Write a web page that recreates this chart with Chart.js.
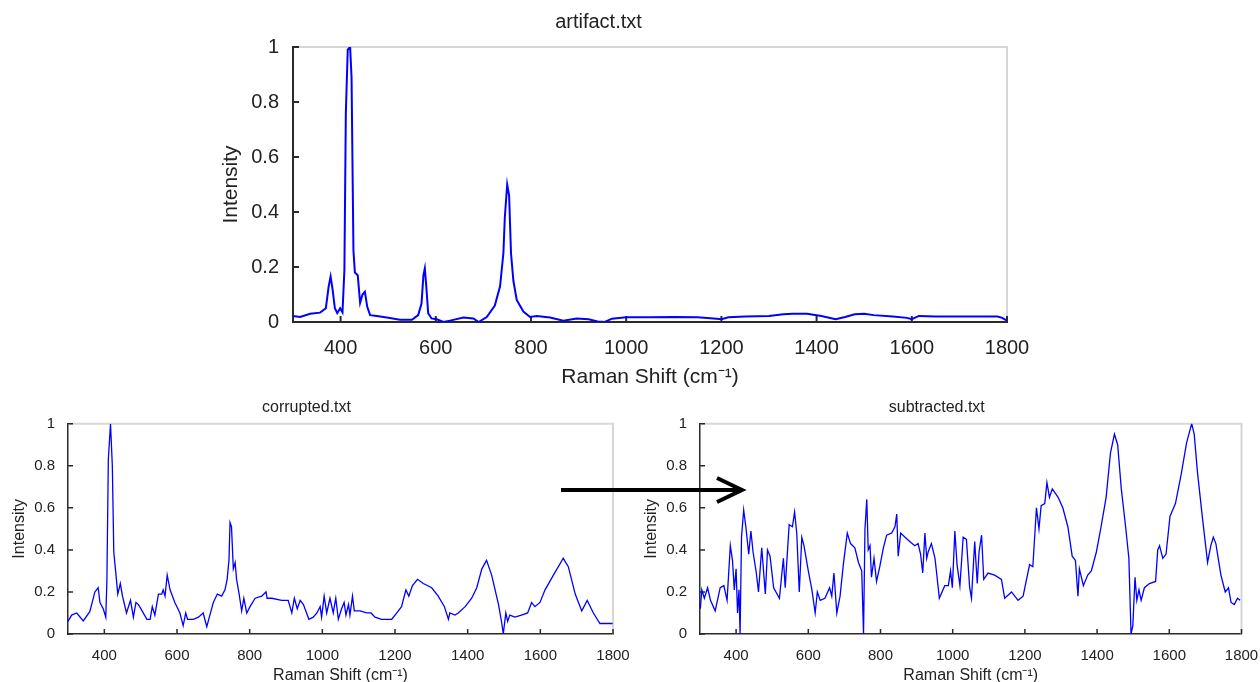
<!DOCTYPE html>
<html lang="en">
<head>
  <meta charset="UTF-8" />
  <title>Raman spectra - artifact subtraction</title>
  <script src="https://cdn.jsdelivr.net/npm/chart.js"></script>
  <style>
    html, body {
      margin: 0;
      padding: 0;
      width: 1260px;
      height: 682px;
      overflow: hidden;
      background: #fff;
    }
    canvas, svg { position: absolute; }
    #artifactChart { left: 190px; top: 0px; }
    #corruptedChart { left: 0px; top: 390px; }
    #subtractedChart { left: 632px; top: 390px; }
    #arrow { left: 0; top: 0; pointer-events: none; }
  </style>
</head>
<body>
  <canvas id="artifactChart" width="850" height="400"></canvas>
  <canvas id="corruptedChart" width="640" height="300"></canvas>
  <canvas id="subtractedChart" width="640" height="300"></canvas>

  <!-- the arrow between the two lower plots -->
  <svg id="arrow" width="1260" height="682">
    <line x1="561" y1="490" x2="740" y2="490" stroke="#000" stroke-width="4" />
    <polyline points="717,478 742,490 717,502" fill="none" stroke="#000" stroke-width="4" />
  </svg>

  <script>
    // tick values shared by all three plots
    const shiftTicks = [400, 600, 800, 1000, 1200, 1400, 1600, 1800];
    const intensityTicks = [0, 0.2, 0.4, 0.6, 0.8, 1];

    // artifact.txt
    const artifactShift = [300, 315, 336, 357, 369, 375, 379, 383, 388, 393, 399, 404, 408, 411, 415, 420, 423, 427, 430, 436, 441, 446, 451, 456, 462, 476, 497, 525, 550, 563, 570, 574, 577, 580, 584, 591, 602, 616, 630, 658, 679, 690, 707, 724, 735, 742, 745, 750, 754, 758, 763, 770, 784, 798, 812, 840, 868, 896, 921, 940, 955, 970, 1000, 1050, 1100, 1150, 1190, 1200, 1215, 1250, 1300, 1330, 1350, 1380, 1410, 1440, 1460, 1480, 1500, 1520, 1560, 1590, 1600, 1615, 1650, 1700, 1750, 1780, 1790, 1800];
    const artifactIntensity = [0.022, 0.018, 0.03, 0.034, 0.05, 0.13, 0.165, 0.12, 0.05, 0.032, 0.05, 0.035, 0.19, 0.76, 0.99, 1.0, 0.89, 0.26, 0.18, 0.17, 0.07, 0.1, 0.11, 0.055, 0.025, 0.022, 0.016, 0.008, 0.008, 0.025, 0.067, 0.17, 0.195, 0.13, 0.032, 0.013, 0.01, 0.0, 0.005, 0.016, 0.013, 0.0, 0.018, 0.06, 0.13, 0.25, 0.38, 0.5, 0.46, 0.25, 0.15, 0.08, 0.038, 0.018, 0.022, 0.016, 0.005, 0.013, 0.01, 0.002, 0.0, 0.012, 0.017, 0.017, 0.018, 0.017, 0.012, 0.01, 0.017, 0.02, 0.022, 0.028, 0.03, 0.03, 0.022, 0.01, 0.018, 0.028, 0.03, 0.025, 0.02, 0.015, 0.01, 0.022, 0.02, 0.02, 0.02, 0.02, 0.015, 0.005];

    // corrupted.txt
    const corruptedShift = [300, 310, 324, 342, 360, 374, 383, 388, 397, 404, 407, 411, 417, 422, 426, 431, 437, 444, 450, 461, 472, 480, 487, 494, 504, 517, 526, 532, 539, 549, 558, 562, 567, 573, 581, 594, 608, 617, 624, 629, 645, 659, 672, 682, 689, 700, 711, 723, 732, 738, 743, 746, 750, 755, 760, 764, 771, 778, 784, 792, 801, 815, 833, 845, 848, 861, 888, 906, 916, 923, 931, 939, 948, 963, 975, 985, 994, 998, 1005, 1012, 1021, 1030, 1037, 1044, 1053, 1060, 1065, 1072, 1076, 1083, 1088, 1104, 1122, 1134, 1145, 1163, 1191, 1205, 1218, 1230, 1238, 1248, 1262, 1278, 1301, 1319, 1336, 1347, 1351, 1365, 1374, 1393, 1411, 1425, 1439, 1452, 1466, 1485, 1494, 1498, 1505, 1510, 1516, 1530, 1548, 1565, 1576, 1585, 1599, 1613, 1636, 1663, 1677, 1696, 1714, 1729, 1746, 1764, 1778, 1799];
    const corruptedIntensity = [0.06, 0.09, 0.1, 0.062, 0.106, 0.2, 0.22, 0.15, 0.12, 0.08, 0.25, 0.83, 1.0, 0.8, 0.39, 0.3, 0.19, 0.24, 0.18, 0.1, 0.16, 0.08, 0.15, 0.14, 0.11, 0.07, 0.07, 0.13, 0.09, 0.19, 0.19, 0.21, 0.18, 0.28, 0.21, 0.15, 0.1, 0.04, 0.1, 0.07, 0.07, 0.08, 0.1, 0.035, 0.08, 0.15, 0.19, 0.18, 0.21, 0.26, 0.35, 0.53, 0.51, 0.31, 0.34, 0.26, 0.19, 0.11, 0.17, 0.1, 0.13, 0.17, 0.18, 0.2, 0.17, 0.17, 0.16, 0.16, 0.1, 0.17, 0.12, 0.16, 0.14, 0.07, 0.08, 0.1, 0.13, 0.08, 0.18, 0.1, 0.17, 0.1, 0.17, 0.07, 0.12, 0.15, 0.09, 0.14, 0.09, 0.18, 0.11, 0.11, 0.1, 0.1, 0.08, 0.07, 0.07, 0.1, 0.13, 0.21, 0.18, 0.23, 0.26, 0.24, 0.22, 0.18, 0.13, 0.07, 0.1, 0.09, 0.1, 0.13, 0.17, 0.22, 0.31, 0.35, 0.28, 0.14, 0.05, 0.0, 0.1, 0.06, 0.09, 0.08, 0.09, 0.1, 0.15, 0.13, 0.15, 0.21, 0.28, 0.36, 0.32, 0.19, 0.11, 0.16, 0.1, 0.05, 0.05, 0.05];

    // subtracted.txt
    const subtractedShift = [301, 305, 312, 321, 329, 342, 356, 366, 375, 384, 390, 395, 400, 404, 408, 411, 415, 421, 427, 435, 441, 447, 456, 462, 471, 476, 481, 487, 494, 504, 520, 531, 536, 540, 547, 556, 562, 568, 575, 582, 588, 600, 610, 619, 625, 633, 646, 659, 665, 671, 679, 688, 697, 708, 717, 729, 739, 748, 753, 757, 762, 766, 771, 775, 782, 789, 798, 808, 817, 831, 840, 845, 849, 856, 868, 881, 895, 904, 911, 917, 923, 928, 932, 941, 951, 963, 978, 988, 994, 999, 1006, 1012, 1020, 1029, 1038, 1047, 1052, 1061, 1068, 1073, 1080, 1086, 1098, 1116, 1135, 1144, 1163, 1181, 1195, 1213, 1222, 1232, 1239, 1245, 1255, 1261, 1268, 1276, 1292, 1305, 1319, 1331, 1340, 1347, 1351, 1362, 1374, 1384, 1398, 1411, 1425, 1437, 1448, 1457, 1467, 1479, 1488, 1494, 1499, 1505, 1510, 1516, 1522, 1531, 1545, 1562, 1568, 1573, 1582, 1591, 1602, 1617, 1633, 1648, 1662, 1669, 1678, 1692, 1706, 1715, 1722, 1729, 1743, 1755, 1764, 1771, 1780, 1789, 1796];
    const subtractedIntensity = [0.12, 0.21, 0.17, 0.22, 0.16, 0.11, 0.22, 0.23, 0.16, 0.42, 0.35, 0.21, 0.31, 0.1, 0.21, 0.0, 0.46, 0.59, 0.51, 0.38, 0.49, 0.39, 0.29, 0.2, 0.41, 0.3, 0.19, 0.4, 0.37, 0.22, 0.17, 0.36, 0.22, 0.33, 0.52, 0.51, 0.58, 0.48, 0.2, 0.46, 0.42, 0.3, 0.21, 0.1, 0.2, 0.16, 0.17, 0.22, 0.18, 0.29, 0.1, 0.18, 0.33, 0.48, 0.43, 0.41, 0.34, 0.3, 0.0, 0.5, 0.64, 0.4, 0.42, 0.27, 0.36, 0.25, 0.32, 0.41, 0.47, 0.48, 0.51, 0.57, 0.37, 0.48, 0.46, 0.44, 0.42, 0.43, 0.38, 0.29, 0.48, 0.36, 0.39, 0.43, 0.36, 0.17, 0.23, 0.23, 0.3, 0.22, 0.49, 0.33, 0.23, 0.46, 0.45, 0.22, 0.17, 0.44, 0.24, 0.39, 0.47, 0.26, 0.29, 0.28, 0.26, 0.17, 0.2, 0.16, 0.18, 0.33, 0.32, 0.6, 0.5, 0.61, 0.62, 0.72, 0.65, 0.69, 0.65, 0.6, 0.51, 0.37, 0.35, 0.18, 0.31, 0.23, 0.28, 0.3, 0.39, 0.51, 0.65, 0.86, 0.95, 0.9, 0.69, 0.51, 0.36, 0.0, 0.04, 0.27, 0.16, 0.21, 0.16, 0.22, 0.24, 0.25, 0.4, 0.42, 0.36, 0.38, 0.56, 0.62, 0.76, 0.91, 1.0, 0.95, 0.77, 0.55, 0.34, 0.42, 0.46, 0.43, 0.28, 0.2, 0.22, 0.15, 0.14, 0.17, 0.16];

    const FONT = "'Liberation Sans', Arial, Helvetica, sans-serif";
    const TEXT = '#222';
    const AXIS = '#2a2a2a';

    // light box on top/right and inward tick marks, MATLAB style
    const boxPlugin = {
      id: 'matlabBox',
      beforeDatasetsDraw(chart, args, opts) {
        const { ctx, chartArea: a, scales: { x, y } } = chart;
        ctx.save();
        ctx.strokeStyle = '#d6d6d6';
        ctx.lineWidth = 2;
        ctx.beginPath();
        ctx.moveTo(a.left, a.top);
        ctx.lineTo(a.right, a.top);
        ctx.lineTo(a.right, a.bottom);
        ctx.stroke();

        ctx.strokeStyle = AXIS;
        ctx.lineWidth = opts.tickWidth;
        ctx.beginPath();
        x.ticks.forEach(t => {
          const px = x.getPixelForValue(t.value);
          ctx.moveTo(px, a.bottom);
          ctx.lineTo(px, a.bottom - opts.tickLen);
        });
        y.ticks.forEach(t => {
          const py = y.getPixelForValue(t.value);
          ctx.moveTo(a.left, py);
          ctx.lineTo(a.left + opts.tickLen, py);
        });
        ctx.stroke();
        ctx.restore();
      }
    };

    function makeChart(canvasId, cfg) {
      const points = cfg.shift.map((v, i) => ({ x: v, y: cfg.intensity[i] }));
      return new Chart(document.getElementById(canvasId), {
        type: 'line',
        data: {
          datasets: [{
            data: points,
            borderColor: '#0000ff',
            borderWidth: cfg.lineWidth,
            pointRadius: 0,
            tension: 0
          }]
        },
        options: {
          responsive: false,
          animation: false,
          events: [],
          layout: { padding: { left: 0, top: 0, bottom: 0, right: cfg.padRight } },
          plugins: {
            legend: { display: false },
            tooltip: { enabled: false },
            title: {
              display: true,
              text: cfg.title,
              color: TEXT,
              font: { family: FONT, size: cfg.titleSize, weight: 'normal' },
              padding: cfg.titlePad
            },
            matlabBox: { tickLen: cfg.tickLen, tickWidth: cfg.axisWidth }
          },
          scales: {
            x: {
              type: 'linear',
              min: 300,
              max: 1800,
              afterBuildTicks: s => { s.ticks = shiftTicks.map(v => ({ value: v })); },
              afterFit: s => { s.height = cfg.xHeight; },
              grid: { display: false },
              border: { display: true, color: AXIS, width: cfg.axisWidth },
              ticks: {
                color: TEXT,
                font: { family: FONT, size: cfg.tickSize },
                padding: cfg.xTickPad,
                maxRotation: 0,
                autoSkip: false,
                callback: v => String(v)
              },
              title: {
                display: true,
                text: 'Raman Shift (cm⁻¹)',
                color: TEXT,
                font: { family: FONT, size: cfg.labelSize },
                padding: { top: 0, bottom: cfg.xTitlePad }
              }
            },
            y: {
              min: 0,
              max: 1,
              afterBuildTicks: s => { s.ticks = intensityTicks.map(v => ({ value: v })); },
              afterFit: s => { s.width = cfg.yWidth; },
              grid: { display: false },
              border: { display: true, color: AXIS, width: cfg.axisWidth },
              ticks: {
                color: TEXT,
                font: { family: FONT, size: cfg.tickSize },
                padding: cfg.yTickPad,
                callback: v => String(v)
              },
              title: {
                display: true,
                text: 'Intensity',
                color: TEXT,
                font: { family: FONT, size: cfg.labelSize },
                padding: { top: cfg.yTitlePad, bottom: 0 }
              }
            }
          }
        },
        plugins: [boxPlugin]
      });
    }

    makeChart('artifactChart', {
      title: 'artifact.txt',
      shift: artifactShift,
      intensity: artifactIntensity,
      lineWidth: 2,
      axisWidth: 2,
      tickLen: 6,
      padRight: 33,
      titleSize: 20,
      titlePad: { top: 10, bottom: 13 },
      tickSize: 20,
      labelSize: 21,
      xHeight: 78,
      yWidth: 103,
      xTickPad: 6,
      yTickPad: 6,
      xTitlePad: 10,
      yTitlePad: 29
    });

    const lowerCfg = {
      lineWidth: 1.3,
      axisWidth: 1.5,
      tickLen: 5,
      titleSize: 16,
      titlePad: { top: 7.5, bottom: 7 },
      tickSize: 15,
      labelSize: 16,
      xHeight: 56,
      yWidth: 68,
      xTickPad: 5,
      yTickPad: 5,
      xTitlePad: 5,
      yTitlePad: 10
    };

    makeChart('corruptedChart', Object.assign({}, lowerCfg, {
      title: 'corrupted.txt',
      shift: corruptedShift,
      intensity: corruptedIntensity,
      padRight: 27
    }));

    makeChart('subtractedChart', Object.assign({}, lowerCfg, {
      title: 'subtracted.txt',
      shift: subtractedShift,
      intensity: subtractedIntensity,
      padRight: 30.5
    }));
  </script>
</body>
</html>
